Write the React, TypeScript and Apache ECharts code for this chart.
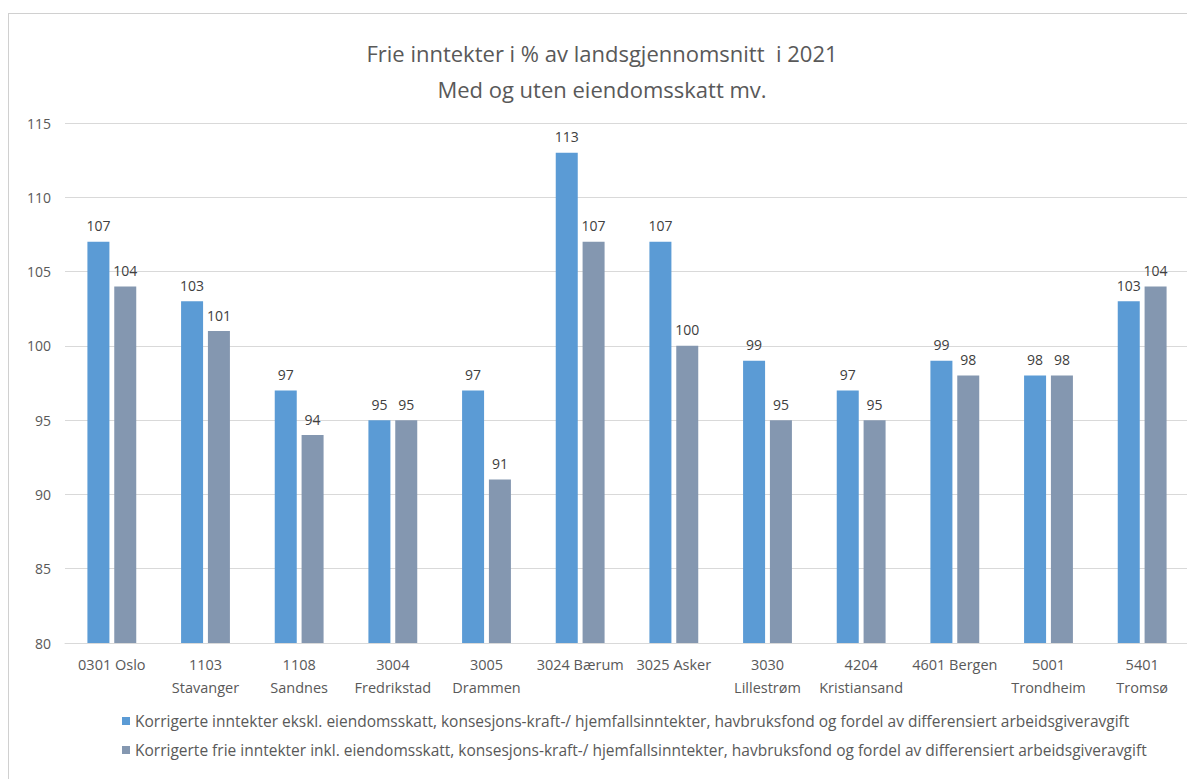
import React, { useEffect, useRef } from "react";
import * as echarts from "echarts";

const categories = [
  "0301 Oslo",
  "1103\nStavanger",
  "1108\nSandnes",
  "3004\nFredrikstad",
  "3005\nDrammen",
  "3024 Bærum",
  "3025 Asker",
  "3030\nLillestrøm",
  "4204\nKristiansand",
  "4601 Bergen",
  "5001\nTrondheim",
  "5401\nTromsø",
];
const seriesExkl = [107, 103, 97, 95, 97, 113, 107, 99, 97, 99, 98, 103];
const seriesInkl = [104, 101, 94, 95, 91, 107, 100, 95, 95, 98, 98, 104];
const nameExkl =
  "Korrigerte inntekter ekskl. eiendomsskatt, konsesjons-kraft-/ hjemfallsinntekter, havbruksfond og fordel av differensiert arbeidsgiveravgift";
const nameInkl =
  "Korrigerte frie inntekter inkl. eiendomsskatt, konsesjons-kraft-/ hjemfallsinntekter, havbruksfond og fordel av differensiert arbeidsgiveravgift";

const FONT = "'Open Sans', 'Noto Sans', sans-serif";

export default function App() {
  const ref = useRef<HTMLDivElement>(null);
  useEffect(() => {
    if (!ref.current) return;
    const chart = echarts.init(ref.current, null, { renderer: "svg" });
    const label = {
      show: true,
      position: "top",
      color: "#404040",
      fontSize: 14,
      fontFamily: FONT,
      distance: 9,
    };
    chart.setOption({
      animation: false,
      textStyle: { fontFamily: FONT },
      title: {
        text: "Frie inntekter i % av landsgjennomsnitt  i 2021\nMed og uten eiendomsskatt mv.",
        left: "center",
        top: 16,
        textStyle: {
          fontSize: 22,
          fontWeight: "normal",
          color: "#595959",
          lineHeight: 36,
          fontFamily: FONT,
        },
      },
      legend: {
        orient: "vertical",
        left: 108,
        top: 694,
        itemGap: 13,
        itemWidth: 8,
        itemHeight: 8,
        icon: "rect",
        textStyle: { fontSize: 15.5, color: "#595959", fontFamily: FONT },
        data: [nameExkl, nameInkl],
      },
      grid: { left: 56, right: 6, top: 109, bottom: 136, containLabel: false },
      xAxis: {
        type: "category",
        data: categories,
        axisLine: { lineStyle: { color: "#d9d9d9" } },
        axisTick: { show: false },
        axisLabel: {
          color: "#595959",
          fontSize: 14.5,
          lineHeight: 23,
          margin: 10,
          interval: 0,
          fontFamily: FONT,
        },
      },
      yAxis: {
        type: "value",
        min: 80,
        max: 115,
        interval: 5,
        axisLine: { show: false },
        axisTick: { show: false },
        axisLabel: { color: "#595959", fontSize: 14, margin: 14, fontFamily: FONT },
        splitLine: { lineStyle: { color: "#d9d9d9", width: 1 } },
      },
      series: [
        {
          name: nameExkl,
          type: "bar",
          data: seriesExkl,
          barWidth: 22,
          barGap: "22%",
          itemStyle: { color: "#5B9BD5" },
          label,
        },
        {
          name: nameInkl,
          type: "bar",
          data: seriesInkl,
          barWidth: 22,
          itemStyle: { color: "#8497B0" },
          label,
        },
      ],
    });
    return () => chart.dispose();
  }, []);
  return (
    <div
      style={{
        width: 1187,
        height: 766,
        borderTop: "1px solid #d0d0d0",
        borderLeft: "1px solid #d0d0d0",
        marginTop: 5,
        boxSizing: "border-box",
        background: "#fff",
      }}
    >
      <div ref={ref} style={{ width: 1186, height: 765 }} />
    </div>
  );
}
